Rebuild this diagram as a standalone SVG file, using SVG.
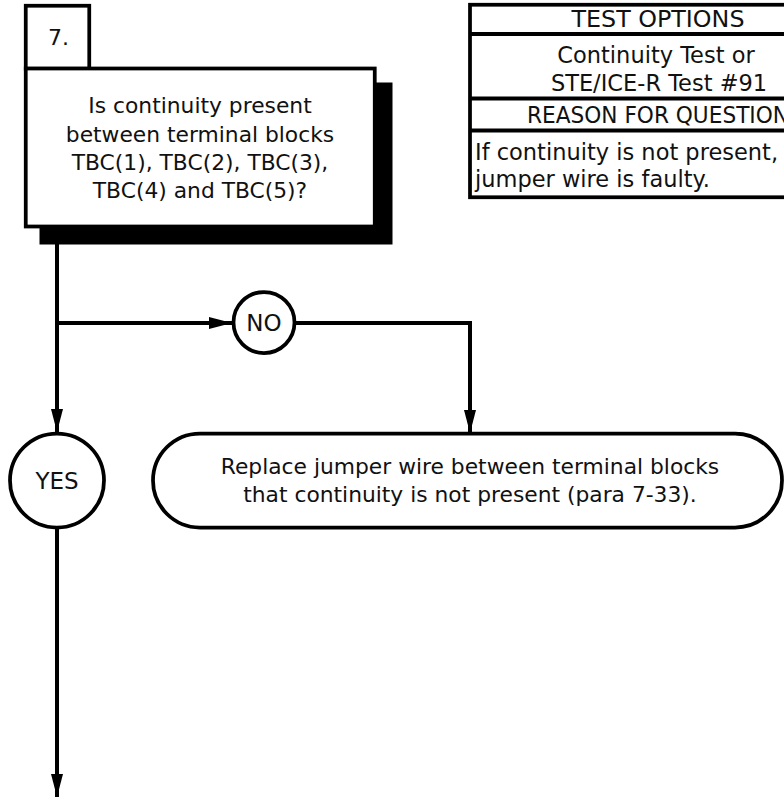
<svg xmlns="http://www.w3.org/2000/svg" width="784" height="797" viewBox="0 0 784 797">
  <style>
    .ln { fill: none; stroke: #000; stroke-width: 4; }
    .box { fill: #fff; stroke: #000; stroke-width: 3.75; }
    .shadow { fill: #000; }
    .t { font-family: "DejaVu Sans", "Liberation Sans", sans-serif; font-size: 21.8px; fill: #111; text-anchor: middle; }
    .tb { font-size: 22.5px; }
    .tc { font-size: 23px; }
    .tl { text-anchor: start; }
  </style>
  <defs>
    <marker id="arrow" viewBox="0 0 23 12" refX="23" refY="6" markerWidth="23" markerHeight="12" markerUnits="userSpaceOnUse" orient="auto">
      <path d="M0,0 L23,6 L0,12 Z" fill="#000"/>
    </marker>
  </defs>

  <!-- connectors -->
  <g id="connectors">
    <path class="ln" d="M57,244 V432" marker-end="url(#arrow)"/>
    <path class="ln" d="M57,323 H232" marker-end="url(#arrow)"/>
    <path class="ln" d="M296,323 H470 V433" marker-end="url(#arrow)"/>
    <path class="ln" d="M57,528 V797" marker-end="url(#arrow)"/>
  </g>

  <!-- step 7 decision box -->
  <g id="step7">
    <rect class="box" x="25.75" y="5.75" width="63.5" height="63"/>
    <text class="t tl" x="48" y="45" style="font-size:22px">7.</text>
    <rect class="shadow" x="39.5" y="82.5" width="353" height="162"/>
    <rect class="box" x="25.75" y="68.5" width="349" height="158"/>
    <text class="t" x="200" y="113">Is continuity present</text>
    <text class="t" x="200" y="142">between terminal blocks</text>
    <text class="t" x="200" y="170">TBC(1), TBC(2), TBC(3),</text>
    <text class="t" x="200" y="198">TBC(4) and TBC(5)?</text>
  </g>

  <!-- test options table (runs past the right edge) -->
  <g id="options">
    <rect class="box" x="470" y="4.75" width="376" height="192.5"/>
    <line class="ln" x1="470" y1="34" x2="846" y2="34"/>
    <line class="ln" x1="470" y1="98.5" x2="846" y2="98.5"/>
    <line class="ln" x1="470" y1="130.5" x2="846" y2="130.5"/>
    <text class="t tb" x="658" y="27" textLength="173" lengthAdjust="spacingAndGlyphs">TEST OPTIONS</text>
    <text class="t tb" x="656" y="63">Continuity Test or</text>
    <text class="t tb" x="659" y="91">STE/ICE-R Test #91</text>
    <text class="t tb" x="658" y="123" textLength="262" lengthAdjust="spacingAndGlyphs">REASON FOR QUESTION</text>
    <text class="t tb tl" x="475" y="160">If continuity is not present,</text>
    <text class="t tb tl" x="475" y="187">jumper wire is faulty.</text>
  </g>

  <!-- NO branch -->
  <g id="no">
    <circle class="box" cx="264" cy="322.5" r="30.5"/>
    <text class="t tc" x="264" y="331">NO</text>
  </g>

  <!-- YES branch -->
  <g id="yes">
    <circle class="box" cx="57" cy="480.5" r="47"/>
    <text class="t tc" x="57" y="489">YES</text>
  </g>

  <!-- corrective action -->
  <g id="replace">
    <rect class="box" x="153" y="433.5" width="629" height="94" rx="47" ry="47"/>
    <text class="t" x="470" y="474">Replace jumper wire between terminal blocks</text>
    <text class="t" x="470" y="502">that continuity is not present (para 7-33).</text>
  </g>
</svg>
